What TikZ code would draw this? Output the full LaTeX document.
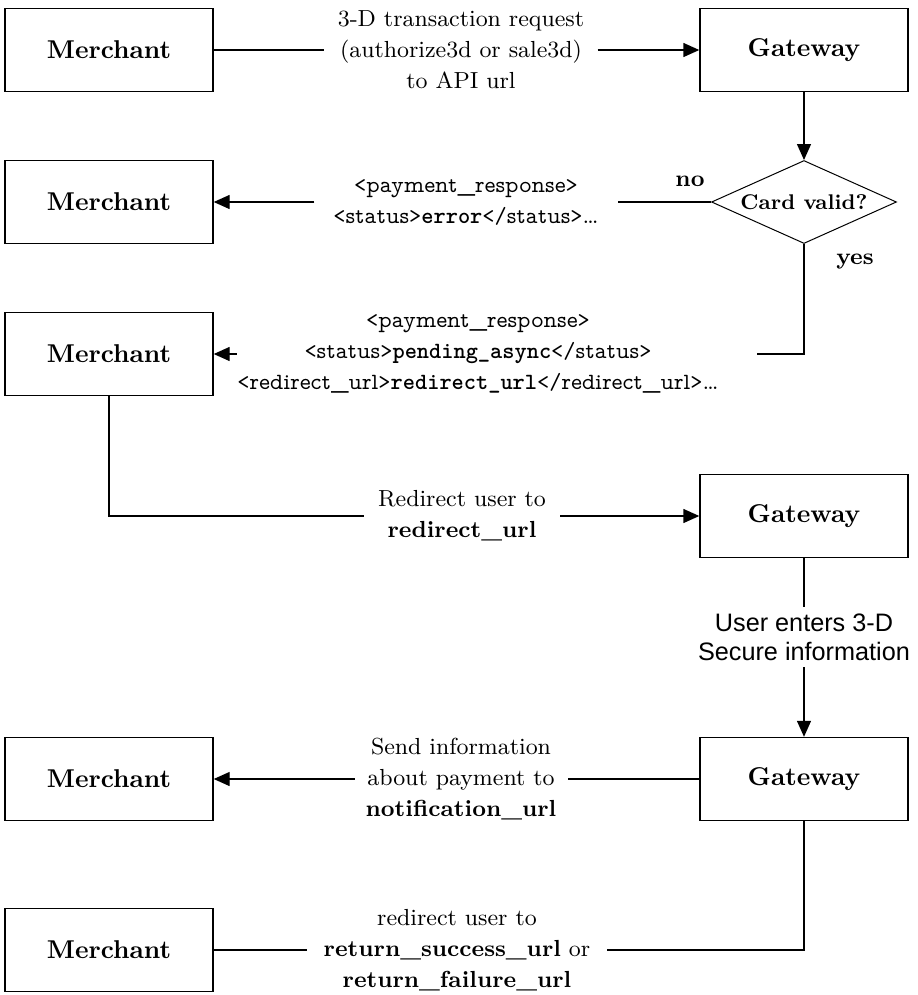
\documentclass[tikz,border=0pt]{standalone}
\usepackage{fontspec}
\usetikzlibrary{shapes.geometric,arrows.meta}
\newfontfamily\helvfont{Liberation Sans}
\newfontfamily\proptt{lmmonoprop10-regular}[Extension=.otf]
\newcommand{\tag}[1]{{\proptt #1}}
\newcommand{\val}[1]{{\ttfamily\bfseries #1}}

\begin{document}
\begin{tikzpicture}[x=0.4pt,y=-0.4pt,
    party/.style={draw,line width=0.55pt,minimum width=83.2pt,minimum height=33.2pt,
        font=\fontsize{10.3}{12}\selectfont\bfseries},
    query/.style={draw,diamond,aspect=2.2,inner sep=0pt,line width=0.4pt,
        minimum width=74pt,minimum height=33.2pt,font=\fontsize{8.5}{10}\selectfont\bfseries},
    msg/.style={align=center,inner xsep=0pt,inner ysep=1pt,font=\fontsize{9.3}{12.4}\selectfont},
    flow/.style={line width=0.55pt},
    >={Triangle[length=6.4pt,width=5.6pt]}]
    \useasboundingbox (0,0) rectangle (918,995);
    \node[party] (m1) at (109,50) {Merchant};
    \node[party] (g1) at (804,50) {Gateway};
    \node[party] (m2) at (109,202) {Merchant};
    \node[query] (d) at (804,202) {Card valid?};
    \node[party] (m3) at (109,354) {Merchant};
    \node[party] (g2) at (804,516) {Gateway};
    \node[party] (m4) at (109,779) {Merchant};
    \node[party] (g3) at (804,779) {Gateway};
    \node[party] (m5) at (109,950) {Merchant};
    \coordinate (c3) at (757,354);
    \node[msg,minimum width=108.8pt] (l1) at (461,50)
        {3-D transaction request\\(authorize3d or sale3d)\\to API url};
    \node[msg,minimum width=120.8pt] (l2) at (466,202)
        {\tag{<payment\_response>}\\\tag{<status>}\val{error}\tag{</status>}\ldots};
    \node[msg,minimum width=190.4pt] (l3) at (478,354)
        {\tag{<payment\_response>}\\\tag{<status>}\val{pending\_async}\tag{</status>}\\
        \tag{<redirect\_url>}\val{redirect\_url}\tag{</redirect\_url>}\ldots};
    \node[msg,minimum width=78pt] (l4) at (462,516) {Redirect user to\\\textbf{redirect\_url}};
    \node[msg,inner ysep=0pt,minimum height=23.6pt,font=\helvfont\fontsize{10.1}{11.6}\selectfont]
        (l5) at (804,637) {User enters 3-D\\Secure information};
    \node[msg,minimum width=84.8pt] (l6) at (461,779)
        {Send information\\about payment to\\\textbf{notification\_url}};
    \node[msg,minimum width=119.6pt] (l7) at (457,950)
        {redirect user to\\\textbf{return\_success\_url} or\\\textbf{return\_failure\_url}};
    \node[msg,font=\fontsize{9.3}{11}\selectfont\bfseries] (no) at (690,181) {no};
    \node[msg,font=\fontsize{9.3}{11}\selectfont\bfseries] (yes) at (855,262) {yes};
    \draw[flow] (m1) -- (l1);
    \draw[flow,->] (l1) -- (g1);
    \draw[flow,->] (g1) -- (d);
    \draw[flow] (d) -- (l2);
    \draw[flow,->] (l2) -- (m2);
    \draw[flow] (d) |- (c3);
    \draw[flow,->] (l3) -- (m3);
    \draw[flow] (m3) |- (l4);
    \draw[flow,->] (l4) -- (g2);
    \draw[flow] (g2) -- (l5);
    \draw[flow,->] (l5) -- (g3);
    \draw[flow] (g3) -- (l6);
    \draw[flow,->] (l6) -- (m4);
    \draw[flow] (g3) |- (l7);
    \draw[flow] (l7) -- (m5);
\end{tikzpicture}
\end{document}
